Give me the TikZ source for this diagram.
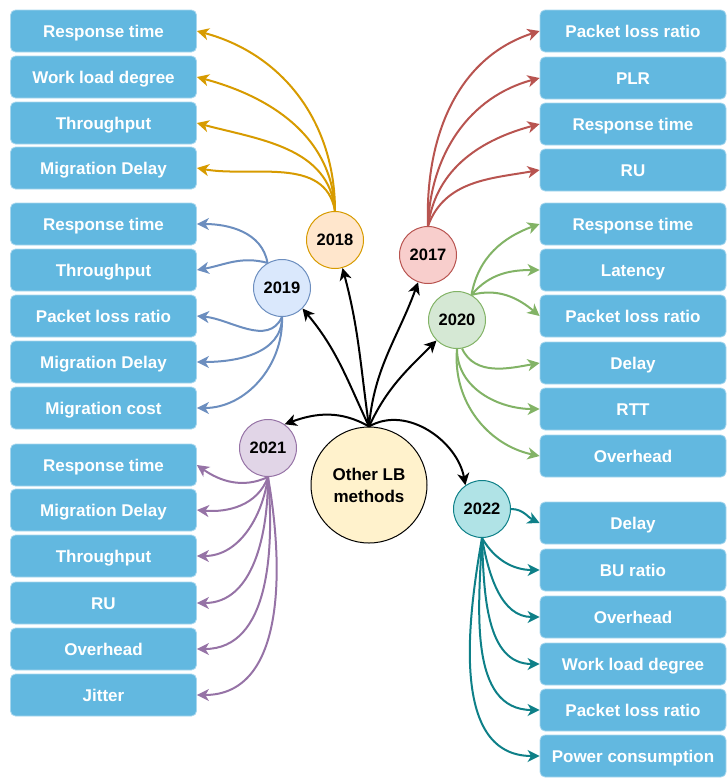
\documentclass[tikz,border=0pt]{standalone}
\usepackage{fontspec}
\setmainfont{Liberation Sans}
\usetikzlibrary{arrows.meta}
\definecolor{boxfill}{HTML}{62B8E0}
\definecolor{boxline}{HTML}{A8D7EE}
\definecolor{o18}{HTML}{D79B00}\definecolor{f18}{HTML}{FFE6CC}
\definecolor{o17}{HTML}{B85450}\definecolor{f17}{HTML}{F8CECC}
\definecolor{o19}{HTML}{6C8EBF}\definecolor{f19}{HTML}{DAE8FC}
\definecolor{o20}{HTML}{82B366}\definecolor{f20}{HTML}{D5E8D4}
\definecolor{o21}{HTML}{9673A6}\definecolor{f21}{HTML}{E1D5E7}
\definecolor{o22}{HTML}{0E8088}\definecolor{f22}{HTML}{B0E3E6}
\definecolor{fc}{HTML}{FFF2CC}
\begin{document}
\begin{tikzpicture}[x=1pt,y=1pt,
  mbox/.style={rectangle,rounded corners=5pt,fill=boxfill,draw=boxline,line width=0.8pt,
    minimum width=186pt,minimum height=42pt,inner sep=0pt,text=white,text depth=2pt,text height=14pt,
    font=\fontsize{17}{19}\selectfont\bfseries},
  yr/.style={circle,minimum size=57pt,inner sep=0pt,line width=1pt,
    font=\fontsize{16.5}{19}\selectfont\bfseries},
  arr/.style={line width=2pt,-{Stealth[length=12pt,width=12pt,inset=3.5pt]}},
]
\useasboundingbox (0,0) rectangle (726,-779);
% left boxes
\node[mbox] (A1) at (103.5,-31) {Response time};
\node[mbox] (A2) at (103.5,-77) {Work load degree};
\node[mbox] (A3) at (103.5,-123) {Throughput};
\node[mbox] (A4) at (103.5,-168) {Migration Delay};
\node[mbox] (B1) at (103.5,-224) {Response time};
\node[mbox] (B2) at (103.5,-270) {Throughput};
\node[mbox] (B3) at (103.5,-316) {Packet loss ratio};
\node[mbox] (B4) at (103.5,-362) {Migration Delay};
\node[mbox] (B5) at (103.5,-408) {Migration cost};
\node[mbox] (C1) at (103.5,-465) {Response time};
\node[mbox] (C2) at (103.5,-510) {Migration Delay};
\node[mbox] (C3) at (103.5,-556) {Throughput};
\node[mbox] (C4) at (103.5,-603) {RU};
\node[mbox] (C5) at (103.5,-649) {Overhead};
\node[mbox] (C6) at (103.5,-695) {Jitter};
% right boxes
\node[mbox] (D1) at (633,-31) {Packet loss ratio};
\node[mbox] (D2) at (633,-78) {PLR};
\node[mbox] (D3) at (633,-124) {Response time};
\node[mbox] (D4) at (633,-170) {RU};
\node[mbox] (E1) at (633,-224) {Response time};
\node[mbox] (E2) at (633,-270) {Latency};
\node[mbox] (E3) at (633,-316) {Packet loss ratio};
\node[mbox] (E4) at (633,-363) {Delay};
\node[mbox] (E5) at (633,-409) {RTT};
\node[mbox] (E6) at (633,-456) {Overhead};
\node[mbox] (F1) at (633,-523) {Delay};
\node[mbox] (F2) at (633,-570) {BU ratio};
\node[mbox] (F3) at (633,-617) {Overhead};
\node[mbox] (F4) at (633,-664) {Work load degree};
\node[mbox] (F5) at (633,-710) {Packet loss ratio};
\node[mbox] (F6) at (633,-756) {Power consumption};
% year circles
\node[yr,fill=f18,draw=o18] (c18) at (335,-240) {2018};
\node[yr,fill=f17,draw=o17] (c17) at (428,-255) {2017};
\node[yr,fill=f19,draw=o19] (c19) at (282,-288) {2019};
\node[yr,fill=f20,draw=o20] (c20) at (457,-320) {2020};
\node[yr,fill=f21,draw=o21] (c21) at (268,-448) {2021};
\node[yr,fill=f22,draw=o22] (c22) at (482,-509) {2022};
\node[circle,minimum size=116pt,inner sep=0pt,line width=1pt,fill=fc,draw=black,align=center,
  font=\fontsize{17}{22}\selectfont\bfseries] (ctr) at (369,-485) {Other LB\\methods};
% 2018
\draw[arr,o18] (c18.north) to[out=90,in=-15] (A1.east);
\draw[arr,o18] (c18.north) to[out=92,in=-15] (A2.east);
\draw[arr,o18] (c18.north) to[out=95,in=-15] (A3.east);
\draw[arr,o18] (c18.north) to[out=100,in=-10] (A4.east);
% 2017
\draw[arr,o17] (c17.north) to[out=92,in=198] (D1.west);
\draw[arr,o17] (c17.north) to[out=88,in=195] (D2.west);
\draw[arr,o17] (c17.north) to[out=82,in=195] (D3.west);
\draw[arr,o17] (c17.north) to[out=70,in=190] (D4.west);
% 2019
\draw[arr,o19] (c19.120) to[out=100,in=0] (B1.east);
\draw[arr,o19] (c19.120) to[out=165,in=10] (B2.east);
\draw[arr,o19] (c19.south) to[out=-115,in=-5] (B3.east);
\draw[arr,o19] (c19.south) to[out=-90,in=0] (B4.east);
\draw[arr,o19] (c19.south) to[out=-88,in=0] (B5.east);
% 2020
\draw[arr,o20] (c20.60) to[out=80,in=200] (E1.west);
\draw[arr,o20] (c20.60) to[out=50,in=180] (E2.west);
\draw[arr,o20] (c20.60) to[out=15,in=140] (E3.west);
\draw[arr,o20] (c20.-80) to[out=-65,in=190] (E4.west);
\draw[arr,o20] (c20.south) to[out=-90,in=180] (E5.west);
\draw[arr,o20] (c20.south) to[out=-95,in=168] (E6.west);
% 2021
\draw[arr,o21] (c21.south) to[out=205,in=-35] (C1.east);
\draw[arr,o21] (c21.south) to[out=-110,in=-5] (C2.east);
\draw[arr,o21] (c21.south) to[out=-98,in=0] (C3.east);
\draw[arr,o21] (c21.south) to[out=-90,in=0] (C4.east);
\draw[arr,o21] (c21.south) to[out=-85,in=0] (C5.east);
\draw[arr,o21] (c21.south) to[out=-80,in=0] (C6.east);
% 2022
\draw[arr,o22] (c22.east) to[out=0,in=155] (F1.west);
\draw[arr,o22] (c22.south) to[out=-60,in=180] (F2.west);
\draw[arr,o22] (c22.south) to[out=-80,in=180] (F3.west);
\draw[arr,o22] (c22.south) to[out=-88,in=180] (F4.west);
\draw[arr,o22] (c22.south) to[out=-93,in=180] (F5.west);
\draw[arr,o22] (c22.south) to[out=-100,in=180] (F6.west);
% centre
\draw[arr,black] (ctr.north) to[out=150,in=20] (c21.55);
\draw[arr,black] (ctr.north) to[out=115,in=-50] (c19.-45);
\draw[arr,black] (ctr.north) to[out=98,in=-75] (c18.-75);
\draw[arr,black] (ctr.north) to[out=85,in=-110] (c17.-110);
\draw[arr,black] (ctr.north) to[out=65,in=-135] (c20.-135);
\draw[arr,black] (ctr.north) to[out=30,in=100] (c22.125);
\end{tikzpicture}
\end{document}
